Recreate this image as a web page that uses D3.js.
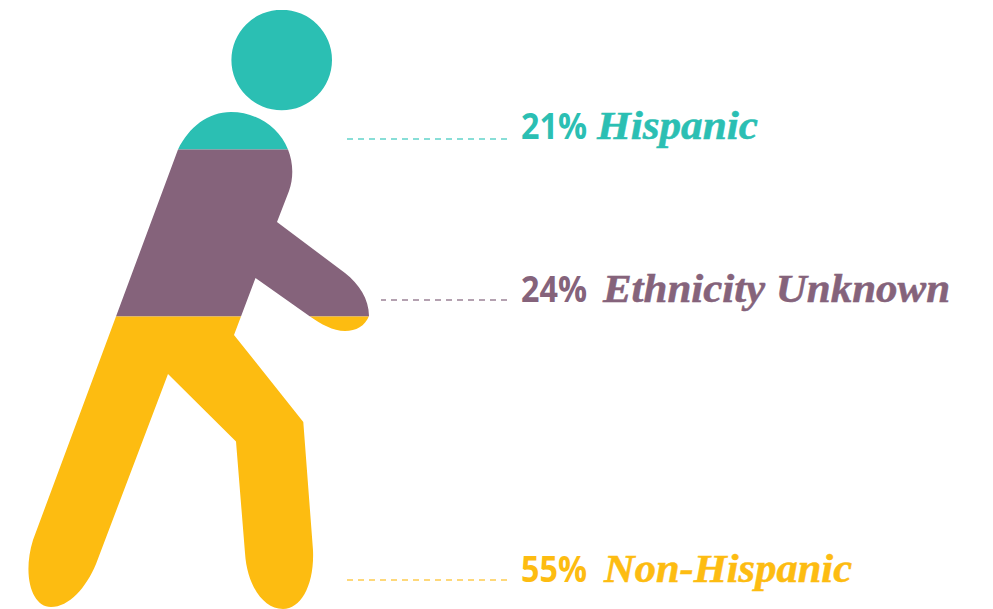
<!DOCTYPE html>
<html>
<head>
<meta charset="utf-8">
<script src="https://cdn.jsdelivr.net/npm/d3@7"></script>
<style>
  html, body { margin: 0; padding: 0; background: #fff; }
  svg { display: block; }
  .pct { font-family: "Open Sans", sans-serif; font-weight: 700; font-size: 36px; }
  .name { font-family: "Liberation Serif", serif; font-weight: 700; font-style: italic; font-size: 39px; stroke-width: 0.5px; }
</style>
</head>
<body>
<div class="person"></div>
<script>
// Width and height
var width = 993;
var height = 609;

// Data, top of the figure to the bottom
var categories = ['Hispanic', 'Ethnicity Unknown', 'Non-Hispanic'];
var shares = [21, 24, 55];
var colors = ['#2bbfb3', '#85637b', '#fdbc11'];
var lineColors = ['#62d4ca', '#9c8296', '#fecb4f'];

// Running totals: 21, 45, 100
var cumulative = d3.cumsum(shares);
var stack = shares.map(function(d, i) {
  return { name: categories[i], share: d, from: i ? cumulative[i - 1] : 0, to: cumulative[i], color: colors[i], line: lineColors[i] };
});

// The figure is not sliced evenly so the scale has a knot at each break
var yScale = d3.scaleLinear()
               .domain([0, 21, 45, 100])
               .range([10, 149.5, 316.5, 610]);

// Where each label sits
var lineY = d3.scaleOrdinal().domain(categories).range([139, 300, 580]);
var textY = d3.scaleOrdinal().domain(categories).range([138.5, 301.5, 582]);
var lineStart = d3.scaleOrdinal().domain(categories).range([347, 381, 347]);
var nameX = d3.scaleOrdinal().domain(categories).range([597, 603, 604]);
var nameWidth = d3.scaleOrdinal().domain(categories).range([161, 347, 248]);

// Outline of the walking person
var bodyPath = 'M178,149.5 C189,127 208,112 231,112 C256,112 279,127 288,149.5 ' +
               'C293,162 294,177 289,191 L277,222 L345,273 C359,284 369,299 369,316 ' +
               'C365,326 356,331 345,331 C333,331 321,324 310,316.5 L255.5,278 L234,335 ' +
               'L303.3,422 L313,550 C314.5,585 301,609 283,609 C263,609 247,585 245,553 ' +
               'L236,441.5 L168,374 L96,564 C86,588 69,607 51,607 C32,607 22,576 33,540 Z';

var svg = d3.select('.person')
            .append('svg')
            .attr('width', width)
            .attr('height', height);

var clip = svg.append('clipPath').attr('id', 'person-clip');
clip.append('circle').attr('cx', 281.7).attr('cy', 60).attr('r', 50.3);
clip.append('path').attr('d', bodyPath);

// Colour bands, clipped to the figure
svg.append('g')
   .attr('clip-path', 'url(#person-clip)')
   .selectAll('rect')
   .data(stack)
   .enter()
   .append('rect')
   .attr('x', 0)
   .attr('width', 400)
   .attr('y', function(d) { return yScale(d.from); })
   .attr('height', function(d) { return yScale(d.to) - yScale(d.from); })
   .style('fill', function(d) { return d.color; });

// Dashed leaders, drawn from the label end so each finishes on a dash
svg.selectAll('line')
   .data(stack)
   .enter()
   .append('line')
   .attr('x1', 507)
   .attr('x2', function(d) { return lineStart(d.name); })
   .attr('y1', function(d) { return lineY(d.name); })
   .attr('y2', function(d) { return lineY(d.name); })
   .style('stroke', function(d) { return d.line; })
   .style('stroke-width', 1.6)
   .style('stroke-dasharray', '6 5');

// Labels
var labels = svg.selectAll('g.label')
                .data(stack)
                .enter()
                .append('g')
                .attr('class', 'label')
                .style('fill', function(d) { return d.color; })
                .style('stroke', function(d) { return d.color; });

labels.append('text')
      .attr('class', 'pct')
      .attr('x', 521)
      .attr('y', function(d) { return textY(d.name); })
      .attr('textLength', 66)
      .attr('lengthAdjust', 'spacingAndGlyphs')
      .style('stroke', 'none')
      .text(function(d) { return d.share + '%'; });

labels.append('text')
      .attr('class', 'name')
      .attr('x', function(d) { return nameX(d.name); })
      .attr('y', function(d) { return textY(d.name); })
      .attr('textLength', function(d) { return nameWidth(d.name); })
      .attr('lengthAdjust', 'spacingAndGlyphs')
      .text(function(d) { return d.name; });
</script>
</body>
</html>
